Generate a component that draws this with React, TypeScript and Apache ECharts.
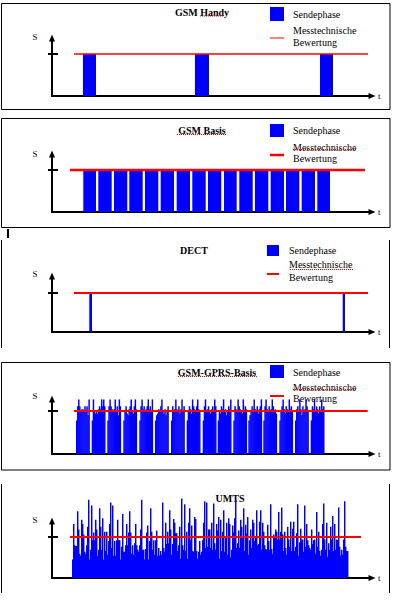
import React, { useEffect, useRef } from 'react';
import * as echarts from 'echarts';

// ---------------- data ----------------
const titles = ['GSM Handy', 'GSM Basis', 'DECT', 'GSM-GPRS-Basis', 'UMTS'];
const legendLabels = ['Sendephase', 'Messtechnische', 'Bewertung'];
const S_LEVEL = 100; // measured evaluation level

// burst start / end times (time units) and level
const handyStarts = [31, 143, 268];
const handyEnds = [44, 157, 281];
const basisStarts = [31.3, 46.3, 62, 77.3, 93, 108.7, 124.7, 140.3, 156, 172, 187.3, 203, 218.7, 234, 249.7, 265.3];
const basisEnds = [44, 59.7, 75.3, 90.7, 106.3, 122, 138, 153.7, 169.3, 184.7, 200.7, 216.3, 232, 247.3, 263, 278];
const dectStarts = [37.3, 290.7];
const dectEnds = [40, 293];

const gprsGroupStarts = [24, 39.7, 55.3, 71.3, 87.3, 103, 119, 134.7, 150.7, 165.7, 181.3, 196.3, 211.3, 227.3, 243, 258.7];
const gprsColumnWidth = 1.03;
const gprsColumns = [
  [78, 111, 127, 111, 100, 104, 104, 100, 111, 100, 111, 90, 127],
  [78, 127, 100, 94, 100, 94, 104, 111, 104, 127, 111, 127, 111],
  [78, 111, 127, 111, 104, 100, 104, 127, 100, 111, 90, 127, 111],
  [78, 100, 111, 94, 90, 104, 111, 127, 100, 94, 111, 127, 104],
  [78, 111, 127, 104, 111, 100, 104, 111, 127, 104, 111, 100, 127],
  [78, 90, 94, 104, 100, 111, 127, 100, 94, 104, 90, 100, 111],
  [78, 111, 100, 104, 127, 104, 100, 111, 94, 104, 127, 100, 111],
  [78, 100, 111, 104, 94, 127, 111, 104, 100, 111, 127, 104, 100],
  [78, 111, 127, 100, 104, 111, 100, 94, 104, 111, 100, 127, 111],
  [78, 100, 94, 111, 104, 127, 100, 104, 90, 100, 111, 104, 127],
  [78, 111, 104, 100, 127, 111, 104, 100, 94, 127, 100, 111, 104],
  [78, 90, 100, 111, 104, 127, 104, 100, 111, 94, 104, 111, 127],
  [78, 111, 127, 104, 100, 111, 100, 104, 127, 111, 100, 104, 94],
  [78, 100, 111, 127, 104, 94, 111, 104, 100, 127, 104, 111, 100],
  [78, 104, 111, 100, 127, 104, 90, 111, 100, 104, 127, 111, 100],
  [78, 111, 104, 127, 100, 111, 104, 94, 111, 100, 127, 104, 111],
];

const umtsStart = 20;
const umtsColumnWidth = 1;
const umtsValues = [
  45, 132, 80, 78, 78, 163, 118, 59, 54, 142,
  132, 106, 64, 59, 80, 125, 191, 45, 69, 177,
  92, 111, 92, 142, 118, 54, 69, 170, 125, 69,
  146, 45, 113, 66, 113, 57, 90, 132, 184, 73,
  177, 54, 90, 54, 92, 142, 92, 92, 45, 76,
  156, 64, 64, 80, 132, 80, 111, 163, 111, 59,
  80, 57, 85, 132, 80, 69, 64, 80, 118, 191,
  69, 69, 45, 71, 111, 128, 45, 90, 170, 113,
  69, 92, 57, 92, 116, 54, 73, 54, 66, 57,
  184, 73, 64, 135, 83, 113, 85, 165, 118, 57,
  83, 144, 135, 109, 109, 66, 80, 125, 47, 194,
  80, 69, 180, 66, 113, 47, 135, 170, 92, 128,
  66, 64, 149, 144, 66, 47, 64, 90, 57, 64,
  92, 135, 187, 73, 184, 76, 118, 118,
  73, 135, 69, 182, 85, 69, 132, 116, 149, 47,
  142, 66, 113, 165, 64, 102, 135, 57, 146, 132,
  50, 69, 128, 111, 146, 191, 73, 85, 116, 73,
  142, 125, 102, 170, 66, 130, 109, 149, 57, 92,
  118, 73, 142, 135, 90, 102, 165, 80, 83, 137,
  165, 69, 135, 113, 80, 71, 69, 130, 90, 69,
  180, 71, 59, 106, 99, 118, 113, 94, 161, 94,
  113, 172, 106, 66, 113, 73, 57, 125, 94, 76,
  137, 66, 120, 137, 66, 76, 109, 180, 54, 87,
  120, 94, 94, 64, 177, 76, 132, 92, 80, 73,
  69, 118, 83, 92, 94, 59, 161, 76, 113, 66,
  54, 69, 132, 182, 94, 69, 135, 52, 85, 69,
  125, 94, 151, 66, 132, 69, 94, 92, 172, 76,
  54, 69, 57, 94, 187, 76, 66, 66,
];

// evaluation line start/end per panel
const levelStarts = [22, 18, 22, 22, 18];
const levelEnds = [316, 313, 316, 315.7, 309];

// ---------------- layout / style ----------------
const FONT = '"Liberation Serif", "Times New Roman", serif';
const BLUE = '#0000ff';
const RED = '#ff0000';
const X_MAX = 320;
const panels = [
  { top: 38, base: 96, sY: 54, lw: 1.5 },
  { top: 154, base: 212, sY: 170, lw: 2.5 },
  { top: 276, base: 332, sY: 293, lw: 2 },
  { top: 399, base: 454, sY: 411, lw: 2 },
  { top: 521, base: 578, sY: 537, lw: 2 },
];
const titlePos = [[202, 12], [202, 130], [194, 250], [217, 372], [230, 498]];
const sPos = [[35, 37], [35, 154], [35, 274], [35, 396], [35, 520]];
const legends = [
  { sq: [270, 7, 14, 14], sendY: 14, lineY: 38, messY: 30, bewY: 42, tx: 293, lx: [270, 284], lw: 1 },
  { sq: [270, 124, 14, 13], sendY: 130, lineY: 155, messY: 147, bewY: 158, tx: 293, lx: [270, 284], lw: 2.5 },
  { sq: [267, 245, 12, 11], sendY: 250, lineY: 274, messY: 264, bewY: 277, tx: 289, lx: [267, 279], lw: 2 },
  { sq: [270, 365, 14, 13], sendY: 372, lineY: 396, messY: 387, bewY: 398, tx: 293, lx: [270, 284], lw: 2 },
];
const squiggles = [
  [200, 224, 16], [177, 227, 134.5], [293, 356, 149.5], [290, 353, 269.5], [178, 257, 376.5], [293, 356, 389.5],
];

function text(x: number, y: number, t: string, size: number, bold = false, align = 'left') {
  return {
    type: 'text',
    x,
    y,
    silent: true,
    style: {
      text: t,
      fill: '#000',
      fontSize: size,
      fontFamily: FONT,
      fontWeight: bold ? 'bold' : 'normal',
      textAlign: align,
      align,
      textVerticalAlign: 'middle',
      verticalAlign: 'middle',
    },
  };
}

function buildOption() {
  const grids: any[] = [];
  const xAxes: any[] = [];
  const yAxes: any[] = [];
  const series: any[] = [];

  const burstData = [
    handyStarts.map((s, i) => [s, handyEnds[i], S_LEVEL]),
    basisStarts.map((s, i) => [s, basisEnds[i], S_LEVEL]),
    dectStarts.map((s, i) => [s, dectEnds[i], S_LEVEL]),
    gprsGroupStarts.flatMap((g, gi) =>
      gprsColumns[gi].map((v, ci) => [g + ci * gprsColumnWidth, g + (ci + 1) * gprsColumnWidth, v])
    ),
    umtsValues.map((v, i) => [umtsStart + i * umtsColumnWidth, umtsStart + (i + 1) * umtsColumnWidth, v]),
  ];

  panels.forEach((p, i) => {
    const yMax = (S_LEVEL * (p.base - p.top)) / (p.base - p.sY);
    grids.push({ left: 52, width: X_MAX, top: p.top, height: p.base - p.top });
    xAxes.push({
      gridIndex: i,
      type: 'value',
      min: 0,
      max: X_MAX,
      name: 't',
      nameLocation: 'end',
      nameGap: 6,
      nameTextStyle: { color: '#000', fontSize: 9, fontFamily: FONT },
      axisLine: { show: true, symbol: ['none', 'triangle'], symbolSize: [6, 7], lineStyle: { color: '#000', width: 2 } },
      axisTick: { show: false },
      axisLabel: { show: false },
      splitLine: { show: false },
    });
    yAxes.push({
      gridIndex: i,
      type: 'value',
      position: 'left',
      min: 0,
      max: yMax,
      axisLine: { show: true, symbol: ['none', 'triangle'], symbolSize: [6, 7], lineStyle: { color: '#000', width: 2 } },
      axisTick: { show: true, customValues: [S_LEVEL], length: 4, lineStyle: { color: '#000', width: 2 } },
      axisLabel: { show: false },
      splitLine: { show: false },
    });
    yAxes.push({
      gridIndex: i,
      type: 'value',
      position: 'left',
      min: 0,
      max: yMax,
      axisLine: { show: false },
      axisTick: { show: true, inside: true, customValues: [S_LEVEL], length: 6, lineStyle: { color: '#000', width: 2 } },
      axisLabel: { show: false },
      splitLine: { show: false },
    });
    const overlap = i >= 3 ? 0.45 : 0;
    series.push({
      type: 'custom',
      name: 'Sendephase',
      xAxisIndex: i,
      yAxisIndex: 2 * i,
      clip: false,
      silent: true,
      encode: { x: [0, 1], y: 2 },
      data: burstData[i],
      renderItem: (_params: any, api: any) => {
        const p0 = api.coord([api.value(0), 0]);
        const p1 = api.coord([api.value(1), api.value(2)]);
        return {
          type: 'rect',
          shape: { x: p0[0], y: p1[1], width: p1[0] - p0[0] + overlap, height: p0[1] - p1[1] },
          style: { fill: BLUE, stroke: 'none' },
        };
      },
      z: 2,
    });
    series.push({
      type: 'line',
      name: 'Messtechnische Bewertung',
      xAxisIndex: i,
      yAxisIndex: 2 * i,
      data: [[levelStarts[i], S_LEVEL], [levelEnds[i], S_LEVEL]],
      symbol: 'none',
      silent: true,
      lineStyle: { color: RED, width: p.lw },
      z: 5,
    });
  });

  const graphic: any[] = [];
  // frames
  graphic.push({ type: 'rect', silent: true, shape: { x: 1.5, y: 3.5, width: 388.5, height: 106 }, style: { fill: 'none', stroke: '#000', lineWidth: 1 } });
  graphic.push({ type: 'rect', silent: true, shape: { x: 1.5, y: 118.5, width: 388.5, height: 109 }, style: { fill: 'none', stroke: '#000', lineWidth: 1 } });
  graphic.push({ type: 'rect', silent: true, shape: { x: 1.5, y: 362.5, width: 388.5, height: 107.5 }, style: { fill: 'none', stroke: '#000', lineWidth: 1 } });
  [[240, 348], [484, 593]].forEach(([a, b]) => {
    graphic.push({ type: 'line', silent: true, shape: { x1: 1.5, y1: a, x2: 1.5, y2: b }, style: { stroke: '#000', lineWidth: 1 } });
    graphic.push({ type: 'line', silent: true, shape: { x1: 389.5, y1: a, x2: 389.5, y2: b }, style: { stroke: '#000', lineWidth: 1 } });
  });
  graphic.push({ type: 'rect', silent: true, shape: { x: 7, y: 229, width: 2, height: 9 }, style: { fill: '#000' } });

  titles.forEach((t, i) => graphic.push(text(titlePos[i][0], titlePos[i][1], t, 10, true, 'center')));
  sPos.forEach(([x, y]) => graphic.push(text(x, y, 'S', 9, false, 'center')));

  legends.forEach((l) => {
    graphic.push({ type: 'rect', silent: true, shape: { x: l.sq[0], y: l.sq[1], width: l.sq[2], height: l.sq[3] }, style: { fill: BLUE } });
    graphic.push({ type: 'line', silent: true, shape: { x1: l.lx[0], y1: l.lineY, x2: l.lx[1], y2: l.lineY }, style: { stroke: RED, lineWidth: l.lw } });
    graphic.push(text(l.tx, l.sendY, legendLabels[0], 10));
    graphic.push(text(l.tx, l.messY, legendLabels[1], 10));
    graphic.push(text(l.tx, l.bewY, legendLabels[2], 10));
  });

  squiggles.forEach(([a, b, y]) => {
    graphic.push({ type: 'line', silent: true, shape: { x1: a, y1: y, x2: b, y2: y }, style: { stroke: RED, lineWidth: 1, lineDash: [1, 1] } });
  });

  return {
    animation: false,
    backgroundColor: '#ffffff',
    grid: grids,
    xAxis: xAxes,
    yAxis: yAxes,
    series,
    graphic: { elements: graphic },
  };
}

export default function App() {
  const ref = useRef<HTMLDivElement>(null);
  useEffect(() => {
    if (!ref.current) return;
    const chart = echarts.init(ref.current, null, { renderer: 'svg', width: 393, height: 600 });
    chart.setOption(buildOption() as any);
    return () => chart.dispose();
  }, []);
  return (
    <div
      ref={ref}
      style={{ position: 'absolute', left: 0, top: 0, width: 393, height: 600, background: '#fff' }}
    />
  );
}
